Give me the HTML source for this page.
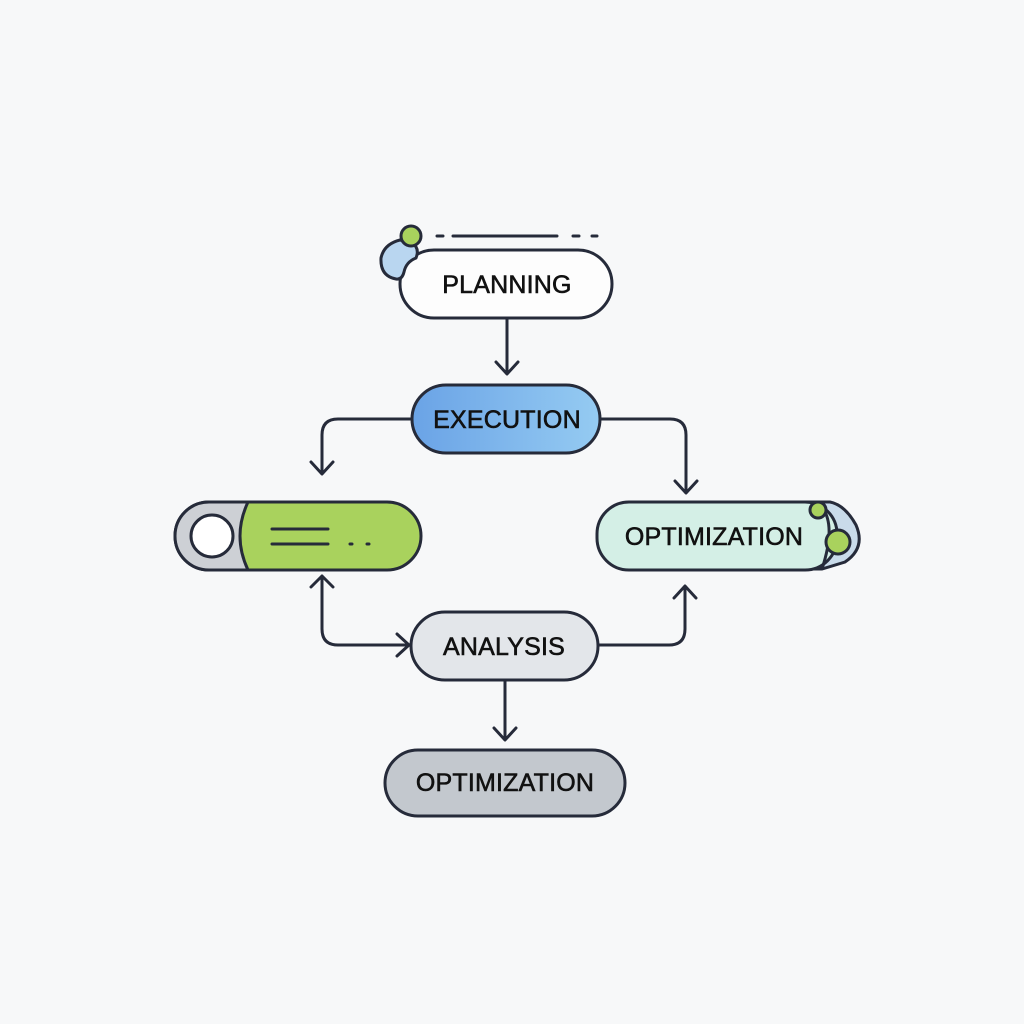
<!DOCTYPE html>
<html><head><meta charset="utf-8"><style>
html,body{margin:0;padding:0;background:#f7f8f9;}
svg{display:block}
text{font-family:"Liberation Sans",sans-serif;font-size:25px;fill:#111;stroke:#111;stroke-width:0.6;text-anchor:middle;dominant-baseline:central;letter-spacing:0.2px}
</style></head><body>
<svg width="1024" height="1024" viewBox="0 0 1024 1024">
<defs>
<linearGradient id="gb" x1="0" x2="1"><stop offset="0" stop-color="#6aa3e6"/><stop offset="1" stop-color="#95cbf2"/></linearGradient>
</defs>
<g fill="none" stroke="#262b3a" stroke-width="3" stroke-linecap="round" stroke-linejoin="round">
<path d="M437 236H443 M453 236H557 M573 236H579 M592 236H597" stroke-width="3"/>
<path d="M507 318V373 M496 362L507 374L518 362"/>
<path d="M412 419H338Q322 419 322 435V473 M311 462L322 474L333 462"/>
<path d="M600 419H670Q686 419 686 435V492 M675 481L686 493L697 481"/>
<path d="M322 576V629Q322 645 338 645H408 M311 587L322 576L333 587 M397 634L409 645L397 656"/>
<path d="M598 645H669Q685 645 685 629V587 M674 598L685 586L696 598"/>
<path d="M505 680V739 M494 728L505 740L516 728"/>
</g>
<g stroke="#262b3a" stroke-width="3">
<rect x="400" y="250" width="212" height="68" rx="34" fill="#fdfdfd"/>
<path d="M400 240Q384 244 381 258Q380 276 396 279Q402 280 404 272Q406 262 416 258Q420 248 412 243Z" fill="#b9d6f0"/>
<circle cx="411" cy="236" r="10" fill="#a9d25d"/>
<rect x="412" y="385" width="188" height="68" rx="34" fill="url(#gb)"/>
<rect x="175" y="502" width="246" height="68" rx="34" fill="#a9d25d"/>
<path d="M209 502H248Q232 536 248 570H209A34 34 0 0 1 209 502Z" fill="#cdd0d5"/>
<circle cx="212" cy="536" r="21" fill="#fff"/>
<path d="M800 502H830Q845 505 856 525Q866 548 845 562L822 569H800Z" fill="#c9dbea"/>
<rect x="597" y="502" width="240" height="68" rx="32" fill="#d4efe6"/>
<path d="M818 503Q838 520 822 569" fill="none"/>
<circle cx="818" cy="510" r="8" fill="#a9d25d"/>
<circle cx="838" cy="542" r="12" fill="#a9d25d"/>
<rect x="411" y="612" width="187" height="68" rx="34" fill="#e3e6ea"/>
<rect x="385" y="750" width="240" height="66" rx="33" fill="#c3c8ce"/>
</g>
<g stroke="#262b3a" stroke-width="3" stroke-linecap="round">
<path d="M272 529H328 M272 544H328 M350 544H352 M367 544H369"/>
</g>
<text x="507" y="285">PLANNING</text>
<text x="507" y="420">EXECUTION</text>
<text x="714" y="537">OPTIMIZATION</text>
<text x="504" y="647">ANALYSIS</text>
<text x="505" y="783">OPTIMIZATION</text>
</svg>
</body></html>
